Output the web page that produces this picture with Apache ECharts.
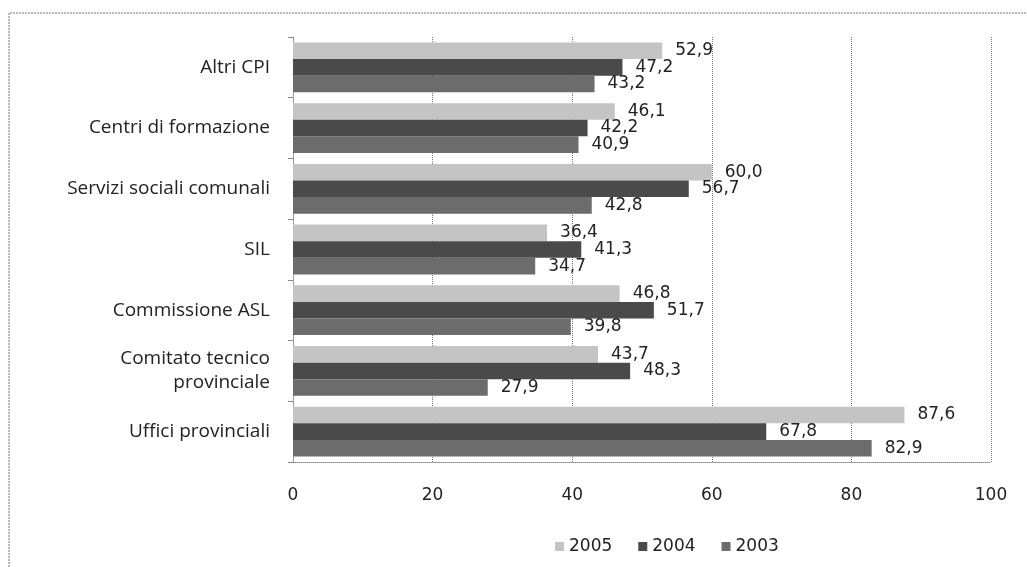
<!DOCTYPE html>
<html><head><meta charset="utf-8">
<script src="https://cdn.jsdelivr.net/npm/echarts@6/dist/echarts.min.js"></script>
<style>html,body{margin:0;padding:0;background:#fff}#c{width:1027px;height:567px}</style>
</head><body><div id="c"></div>
<script>
const categories = ['Uffici provinciali', 'Comitato tecnico\nprovinciale', 'Commissione ASL', 'SIL', 'Servizi sociali comunali', 'Centri di formazione', 'Altri CPI'];
const v2005 = [87.6, 43.7, 46.8, 36.4, 60.0, 46.1, 52.9];
const v2004 = [67.8, 48.3, 51.7, 41.3, 56.7, 42.2, 47.2];
const v2003 = [82.9, 27.9, 39.8, 34.7, 42.8, 40.9, 43.2];
const xTicks = [0, 20, 40, 60, 80, 100];

const chart = echarts.init(document.getElementById('c'));
const lbl = {show: true, position: 'right', distance: 13, color: '#222', fontFamily: 'DejaVu Sans', fontSize: 17,
  formatter: p => p.value.toFixed(1).replace('.', ',')};
function ser(name, data, color) {
  return {name, type: 'bar', data, barGap: '0%', barCategoryGap: '18%',
    itemStyle: {color}, label: lbl, animation: false};
}
chart.setOption({
  animation: false,
  graphic: [{type: 'polyline', shape: {points: [[9, 600], [9, 13], [1030, 13]]},
    style: {stroke: '#777', lineWidth: 1, lineDash: [2, 1], fill: null}}],
  grid: {left: 293, right: 36, top: 37, bottom: 105},
  legend: {data: ['2005', '2004', '2003'], left: 550, top: 533, itemWidth: 9, itemHeight: 9, itemGap: 26,
    icon: 'rect', textStyle: {fontFamily: 'DejaVu Sans', fontSize: 17, color: '#222', padding: [0, 0, 0, 0]}},
  xAxis: {type: 'value', min: 0, max: 100, interval: 20,
    axisLine: {show: true, lineStyle: {color: '#888', type: 'dotted'}},
    axisTick: {show: false},
    axisLabel: {fontFamily: 'DejaVu Sans', fontSize: 17, color: '#222', margin: 25,
      formatter: v => xTicks.includes(v) ? String(v) : ''},
    splitLine: {show: true, lineStyle: {color: '#777', type: 'dotted'}}},
  yAxis: {type: 'category', data: categories,
    axisLine: {show: true, lineStyle: {color: '#888', type: 'dotted'}},
    axisTick: {show: true, length: 5, lineStyle: {color: '#888'}},
    axisLabel: {fontFamily: 'Open Sans', fontSize: 19, color: '#222', margin: 23, lineHeight: 24}},
  series: [ser('2005', v2005, '#c4c4c4'), ser('2004', v2004, '#4a4a4a'), ser('2003', v2003, '#6c6c6c')]
});
</script></body></html>
